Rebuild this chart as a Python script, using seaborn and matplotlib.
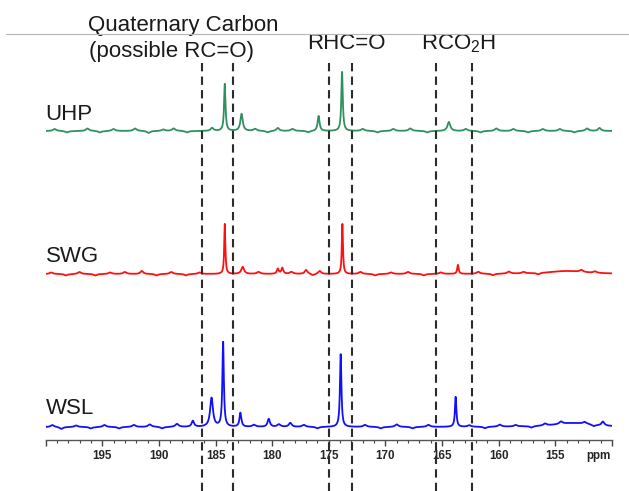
import numpy as np
import pandas as pd
import matplotlib
matplotlib.use("Agg")
import matplotlib.pyplot as plt
from matplotlib.lines import Line2D
import seaborn as sns

sns.set_style("white")
plt.rcParams['font.family'] = ['Liberation Sans', 'DejaVu Sans']
plt.rcParams['mathtext.default'] = 'regular'

# --- peak tables (ppm, height in px, width in ppm) ---
uhp_ppm = [184.18, 182.7, 175.9, 173.83, 164.4, 185.3, 179.5, 151.1]
uhp_height = [47, 17, 15, 60, 9, 3, 3, 3]
uhp_fwhm = [0.15, 0.25, 0.2, 0.15, 0.3, 0.3, 0.3, 0.3]

swg_ppm = [184.18, 173.8, 182.6, 179.5, 179.1, 177.0, 175.8, 163.6, 191.5, 154.0]
swg_height = [50, 50, 7, 5, 6, 4, 3, 9, 3, 3]
swg_fwhm = [0.12, 0.12, 0.3, 0.2, 0.2, 0.3, 0.3, 0.15, 0.3, 4.0]

wsl_ppm = [185.35, 184.33, 182.8, 173.95, 163.8, 187.0, 180.3, 178.4, 153.4, 150.8]
wsl_height = [29, 86, 14, 74, 30, 6, 8, 4, 4, 4]
wsl_fwhm = [0.3, 0.15, 0.2, 0.15, 0.15, 0.25, 0.25, 0.3, 4.0, 0.3]

# small baseline wiggles (ppm, px)
uhp_ripple_ppm = [199.2, 198.1, 196.3, 195.2, 194.0, 192.1, 190.9, 189.6, 188.7, 187.5,
                  181.5, 180.4, 178.2, 176.8, 172.0, 170.7, 169.3, 167.8, 166.3, 162.9,
                  161.6, 160.2, 158.7, 157.4, 156.1, 154.6, 153.3, 152.2]
uhp_ripple_h = [2, -1.5, 2.5, -1.5, 2, 2.5, -2, 1.5, 2.5, -1.5, 2, -1.5, 2, -1.5, 2,
                -1.5, 2, 2.5, -1.5, 2, -1.5, 2.5, 2, -1.5, 2, 2, -1.5, 2.5]
swg_ripple_ppm = [199.5, 198.2, 197.0, 195.6, 194.3, 193.0, 190.2, 188.9, 187.6, 186.4,
                  181.2, 178.3, 176.4, 172.2, 170.9, 169.5, 168.0, 166.6, 165.1, 161.8,
                  160.5, 159.1, 157.8, 156.5, 152.7, 151.5]
swg_ripple_h = [1.5, -1.5, 2, -1.5, 1.5, 2, -1.5, 2, -1.5, 1.5, 2, 2, -1.5, 2, -1.5,
                1.5, 2, -1.5, 1.5, 2, -1.5, 2, 1.5, -1.5, 2, 1.5]
wsl_ripple_ppm = [199.4, 198.6, 197.3, 196.0, 194.8, 193.5, 192.2, 190.8, 189.7, 188.4,
                  181.6, 179.4, 177.2, 176.0, 171.8, 170.4, 169.0, 167.6, 166.2, 162.6,
                  161.2, 159.9, 158.5, 157.1, 155.9, 154.5, 152.4, 151.6]
wsl_ripple_h = [2, -2, 1.5, -1.5, 2, -1.5, 2, 2.5, -1.5, 3, 2, 2.5, 2, -1.5, 2,
                -1.5, 2.5, -1.5, 2, 1.5, -1.5, 2, 1.5, -1.5, 2, 2.5, 2, -1.5]

dash_ppm = [186.2, 183.45, 175.0, 172.95, 165.5, 162.4]
tick_ppm = [150, 155, 160, 165, 170, 175, 180, 185, 190, 195, 200]
tick_text = ['', '155', '160', '165', '170', '175', '180', '185', '190', '195', '']

ppm = np.linspace(150, 200, 2501)


def spectrum(centers, heights, widths):
    y = np.zeros_like(ppm)
    for c, h, w in zip(centers, heights, widths):
        y += h * (w / 2) ** 2 / ((ppm - c) ** 2 + (w / 2) ** 2)
    return y


uhp = spectrum(uhp_ppm + uhp_ripple_ppm, uhp_height + uhp_ripple_h,
               uhp_fwhm + [0.35] * len(uhp_ripple_ppm))
swg = spectrum(swg_ppm + swg_ripple_ppm, swg_height + swg_ripple_h,
               swg_fwhm + [0.35] * len(swg_ripple_ppm))
wsl = spectrum(wsl_ppm + wsl_ripple_ppm, wsl_height + wsl_ripple_h,
               wsl_fwhm + [0.35] * len(wsl_ripple_ppm))

df = pd.DataFrame({'ppm': ppm, 'UHP': uhp + 309, 'SWG': swg + 166, 'WSL': wsl + 13})

fig = plt.figure(figsize=(6.29, 4.91), dpi=100)
ax = fig.add_axes([45.6 / 629, 51 / 491, 566.4 / 629, 440 / 491])

sns.lineplot(data=df, x='ppm', y='UHP', color='#2f9060', lw=1.3, ax=ax)
sns.lineplot(data=df, x='ppm', y='SWG', color='#ff1010', lw=1.3, ax=ax)
sns.lineplot(data=df, x='ppm', y='WSL', color='#1010ff', lw=1.3, ax=ax)

ax.vlines(dash_ppm, 377, -51, colors='#2b2b2b', linestyles=(0, (4, 2.5)),
          lw=1.5, clip_on=False, zorder=3)

ax.set_xlim(200, 150)
ax.set_ylim(0, 440)
ax.set_xlabel('')
ax.set_ylabel('')
ax.set_yticks([])
ax.set_xticks(tick_ppm)
ax.set_xticklabels(tick_text, fontweight='bold')
ax.set_xticks(np.arange(150, 201, 1), minor=True)
ax.tick_params(axis='x', which='major', direction='out', length=4.3, width=1,
               color='#444444', pad=3.2, labelsize=8.4, bottom=True)
ax.tick_params(axis='x', which='minor', direction='out', length=2.4, width=0.8,
               color='#444444', bottom=True)
for s in ['left', 'top', 'right']:
    ax.spines[s].set_visible(False)
ax.spines['bottom'].set_color('#555555')
ax.spines['bottom'].set_linewidth(1)
ax.patch.set_alpha(0)

ax.text(150.1, -16, 'ppm', ha='right', va='center', fontsize=8.4,
        fontweight='bold', clip_on=False)

txt = dict(fontsize=16, color='#1a1a1a', ha='left', va='baseline', clip_on=False)
ax.text(196.23, 409.3, 'Quaternary Carbon', **txt)
ax.text(196.14, 382.7, '(possible RC=O)', **txt)
ax.text(176.9, 390.7, 'RHC=O', **txt)
ax.text(166.9, 391, r'RCO$_2$H', **txt)
ax.text(200.0, 320, 'UHP', **txt)
ax.text(200.0, 178.3, 'SWG', **txt)
ax.text(200.0, 26, 'WSL', **txt)

fig.add_artist(Line2D([6 / 629, 1], [1 - 34.3 / 491] * 2, transform=fig.transFigure,
                      color='#b5b5b5', lw=0.8))

fig.savefig('out.png', dpi=100)
